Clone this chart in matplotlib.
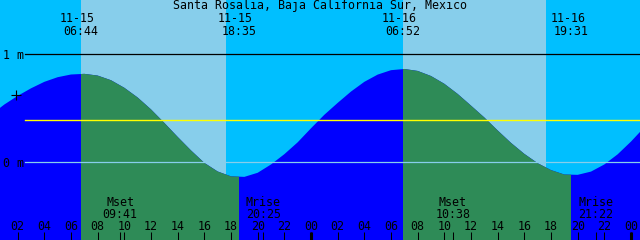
import matplotlib
matplotlib.use("Agg")
import matplotlib.pyplot as plt
from matplotlib.patches import Rectangle
import matplotlib.transforms as mtransforms

# ---------------- data ----------------
title = "Santa Rosalia, Baja California Sur, Mexico"

# hours since 11-15 00:00 and tide height (m)
hours = list(range(0, 50))
tide_m = [0.440, 0.535, 0.615, 0.685, 0.745, 0.788, 0.813, 0.819, 0.803, 0.760,
          0.690, 0.600, 0.490, 0.365, 0.235, 0.110, -0.005, -0.085, -0.130, -0.135,
          -0.097, -0.020, 0.075, 0.185, 0.315, 0.440, 0.550, 0.655, 0.745, 0.812,
          0.853, 0.864, 0.846, 0.799, 0.727, 0.633, 0.525, 0.415, 0.295, 0.180,
          0.078, -0.008, -0.072, -0.113, -0.116, -0.086, -0.020, 0.074, 0.192, 0.324]

sun_dates = ["11-15", "11-15", "11-16", "11-16"]
sun_labels = ["06:44", "18:35", "06:52", "19:31"]
sun_times = [6 + 44 / 60, 18 + 35 / 60, 30 + 52 / 60, 43 + 31 / 60]
sunrise = [sun_times[0], sun_times[2]]
sunset = [sun_times[1], sun_times[3]]
sky_light_end = [17 + 38 / 60, 41 + 38 / 60]

moon_names = ["Mset", "Mrise", "Mset", "Mrise"]
moon_labels = ["09:41", "20:25", "10:38", "21:22"]
moon_times = [9 + 41 / 60, 20 + 25 / 60, 34 + 38 / 60, 45 + 22 / 60]

hour_ticks = list(range(2, 49, 2))
hour_labels = ["%02d" % (h % 24) for h in hour_ticks]
midnights = [24, 48]

mean_level = 0.39
level_lines = [1, 0]
level_labels = ["1 m", "0 m"]
plus_mark = (1.875, 0.623)

# ---------------- style ----------------
NIGHT_SKY = "#00BFFF"
DAY_SKY = "#87CEEB"
NIGHT_TIDE = "#0000FF"
DAY_TIDE = "#2E8B57"
FONT = dict(family="DejaVu Sans Mono", size=8.4, color="black")

W, H = 640, 240
fig = plt.figure(figsize=(W / 100, H / 100), dpi=100)
ax = fig.add_axes([0, 0, 1, 1])
ax.set_facecolor(NIGHT_SKY)
for s in ax.spines.values():
    s.set_visible(False)
ax.set_xticks([])
ax.set_yticks([])

x0 = 0.675
ax.set_xlim(x0, x0 + 48)
ybot, ytop = -0.7194, 1.5028
ax.set_ylim(ybot, ytop)

def fy(ypix):
    return 1 - ypix / H

# sky shading
for a, b in zip(sunrise, sky_light_end):
    ax.axvspan(a, b, color=DAY_SKY, lw=0, zorder=0.5)

# tide fill
ax.fill_between(hours, tide_m, ybot - 1, color=NIGHT_TIDE, lw=0, zorder=1)
for a, b in zip(sunrise, sunset):
    poly = ax.fill_between(hours, tide_m, ybot - 1, color=DAY_TIDE, lw=0, zorder=1.1)
    rect = Rectangle((a, ybot - 1), b - a, ytop - ybot + 2, transform=ax.transData)
    poly.set_clip_path(rect)

# level lines
xstart = 25 / W
ax.axhline(level_lines[1], xmin=xstart, xmax=1, color=DAY_SKY, lw=0.9, zorder=2)
ax.axhline(mean_level, xmin=xstart, xmax=1, color="#FFFF00", lw=1.0, zorder=2)
ax.axhline(level_lines[0], xmin=xstart, xmax=1, color="black", lw=0.9, zorder=2)

ytr = mtransforms.offset_copy(ax.get_yaxis_transform(), fig=fig, x=0, y=-4.2, units="dots")
for lv, lab in zip(level_lines, level_labels):
    ax.text(2.7 / W, lv, lab, transform=ytr, ha="left", va="baseline", zorder=3, **FONT)

ax.plot(*plus_mark, marker="+", ms=6.5, mew=0.8, color="black", zorder=3)

xtr = ax.get_xaxis_transform()

# title
ax.text(0.5, fy(9.5), title, transform=ax.transAxes, ha="center", va="baseline", zorder=3, **FONT)

# sun labels
for t, d, lab in zip(sun_times, sun_dates, sun_labels):
    ax.text(t - 0.25, fy(22), d, transform=xtr, ha="center", va="baseline", zorder=3, **FONT)
    ax.text(t, fy(34.7), lab, transform=xtr, ha="center", va="baseline", zorder=3, **FONT)

# moon labels
for t, n, lab in zip(moon_times, moon_names, moon_labels):
    ax.text(t, fy(206), n, transform=xtr, ha="center", va="baseline", zorder=3, **FONT)
    ax.text(t, fy(218), lab, transform=xtr, ha="center", va="baseline", zorder=3, **FONT)

# hour ticks and labels
tick_top = 8.5 / H
ax.vlines(hour_ticks + moon_times, 0, tick_top, transform=xtr, colors="black", lw=0.75, zorder=3)
ax.vlines(midnights, 0, tick_top, transform=xtr, colors="black", lw=2.2, zorder=3)
for t, lab in zip(hour_ticks, hour_labels):
    ax.text(t, fy(230), lab, transform=xtr, ha="center", va="baseline", zorder=3, **FONT)

fig.savefig("out.png", dpi=100)
